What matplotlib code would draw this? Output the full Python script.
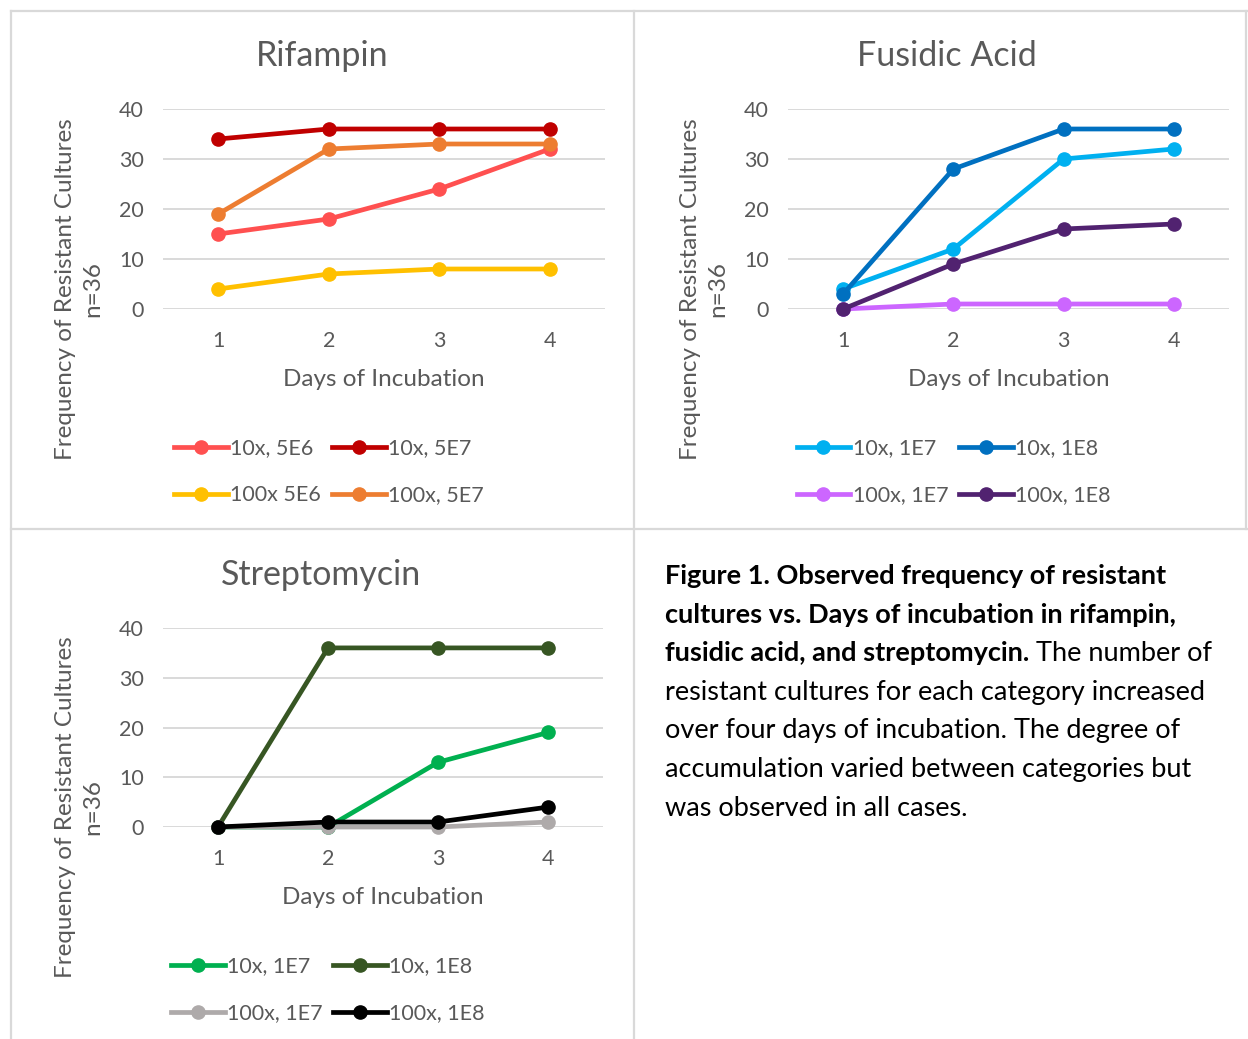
import matplotlib.pyplot as plt
from matplotlib.lines import Line2D

days = [1, 2, 3, 4]

rif_labels = ['10x, 5E6', '10x, 5E7', '100x 5E6', '100x, 5E7']
rif_10x_5e6 = [15, 18, 24, 32]
rif_10x_5e7 = [34, 36, 36, 36]
rif_100x_5e6 = [4, 7, 8, 8]
rif_100x_5e7 = [19, 32, 33, 33]
rif_colors = ['#FF5050', '#C00000', '#FFC000', '#ED7D31']

fus_labels = ['10x, 1E7', '10x, 1E8', '100x, 1E7', '100x, 1E8']
fus_10x_1e7 = [4, 12, 30, 32]
fus_10x_1e8 = [3, 28, 36, 36]
fus_100x_1e7 = [0, 1, 1, 1]
fus_100x_1e8 = [0, 9, 16, 17]
fus_colors = ['#00B0F0', '#0070C0', '#CC66FF', '#512270']

str_labels = ['10x, 1E7', '10x, 1E8', '100x, 1E7', '100x, 1E8']
str_10x_1e7 = [0, 0, 13, 19]
str_10x_1e8 = [0, 36, 36, 36]
str_100x_1e7 = [0, 0, 0, 1]
str_100x_1e8 = [0, 1, 1, 4]
str_colors = ['#00B050', '#375623', '#AEAAAA', '#000000']

W, H = 1248, 1039
GREY = '#595959'
FONT = 'Lato'


def fx(px):
    return px / W


def fy(py):
    return 1 - py / H


def chart(fig, box, title, series, labels, colors, draw_order):
    # box = (left, top, right, bottom) of the plot area in pixels
    l, t, r, b = box
    ax = fig.add_axes([fx(l), fy(b), fx(r - l), (b - t) / H])
    for i in draw_order:
        ax.plot(days, series[i], color=colors[i], lw=3.4, marker='o',
                ms=9.5, clip_on=False, solid_capstyle='round', zorder=3 + i)
    ax.set_xlim(0.5, 4.5)
    ax.set_ylim(0, 40)
    ax.set_xticks(days)
    ax.set_yticks([0, 10, 20, 30, 40])
    ax.grid(axis='y', color='#D9D9D9', lw=1.4)
    ax.set_axisbelow(True)
    for s in ax.spines.values():
        s.set_visible(False)
    ax.tick_params(length=0, labelsize=15.5, labelcolor=GREY, pad=14)
    ax.tick_params(axis='x', pad=16)
    ax.set_xlabel('Days of Incubation', fontsize=17.5, color=GREY, labelpad=13)

    pcx = (l + r) / 2 - 62
    fig.text(fx(pcx), fy(t - 53), title, fontsize=24.5, color=GREY,
             ha='center', va='center')
    fig.text(fx(l - 84), fy(b - 20),
             'Frequency of Resistant Cultures\nn=36', rotation=90,
             fontsize=17.5, color=GREY, ha='center', va='center',
             multialignment='center', linespacing=1.4)

    handles = [Line2D([], [], color=c, lw=3.4, marker='o', ms=9.5) for c in colors]
    order = [0, 2, 1, 3]
    fig.legend([handles[i] for i in order], [labels[i] for i in order],
               ncol=2, loc='center', bbox_to_anchor=(fx(pcx + 7), fy(b + 163)),
               frameon=False, fontsize=15.5, labelcolor=GREY, handlelength=2.5,
               handletextpad=0.1, columnspacing=0.5, labelspacing=1.25,
               borderpad=0)
    return ax


def main():
    plt.rcParams['font.family'] = [FONT, 'DejaVu Sans']
    fig = plt.figure(figsize=(W / 100, H / 100), dpi=100)

    # panel borders
    border = dict(color='#D9D9D9', lw=1.6)
    fig.add_artist(Line2D([fx(11), fx(1247)], [fy(11), fy(11)], **border))
    fig.add_artist(Line2D([fx(11), fx(11)], [fy(11), fy(1039)], **border))
    fig.add_artist(Line2D([fx(634), fx(634)], [fy(11), fy(1039)], **border))
    fig.add_artist(Line2D([fx(11), fx(1247)], [fy(529), fy(529)], **border))
    fig.add_artist(Line2D([fx(1246), fx(1246)], [fy(11), fy(529)], **border))

    chart(fig, (163, 109, 605, 309), 'Rifampin',
          [rif_10x_5e6, rif_10x_5e7, rif_100x_5e6, rif_100x_5e7],
          rif_labels, rif_colors, [2, 0, 3, 1])
    chart(fig, (788, 109, 1229, 309), 'Fusidic Acid',
          [fus_10x_1e7, fus_10x_1e8, fus_100x_1e7, fus_100x_1e8],
          fus_labels, fus_colors, [2, 3, 0, 1])
    chart(fig, (163, 628, 603, 827), 'Streptomycin',
          [str_10x_1e7, str_10x_1e8, str_100x_1e7, str_100x_1e8],
          str_labels, str_colors, [1, 0, 2, 3])

    # caption
    cap = [
        ('Figure 1. Observed frequency of resistant', ''),
        ('cultures vs. Days of incubation in rifampin,', ''),
        ('fusidic acid, and streptomycin.', ' The number of'),
        ('', 'resistant cultures for each category increased'),
        ('', 'over four days of incubation. The degree of'),
        ('', 'accumulation varied between categories but'),
        ('', 'was observed in all cases.'),
    ]
    renderer = fig.canvas.get_renderer()
    x0 = fx(665)
    for i, (bold, normal) in enumerate(cap):
        y = fy(576 + i * 38.7)
        x = x0
        if bold:
            tb = fig.text(x, y, bold, fontsize=19.5, fontweight='bold',
                          color='black', va='center', ha='left')
            x = fig.transFigure.inverted().transform(
                (tb.get_window_extent(renderer).x1, 0))[0]
        if normal:
            fig.text(x, y, normal, fontsize=19.5, color='black',
                     va='center', ha='left')

    plt.savefig('out.png', dpi=100)


if __name__ == '__main__':
    main()
